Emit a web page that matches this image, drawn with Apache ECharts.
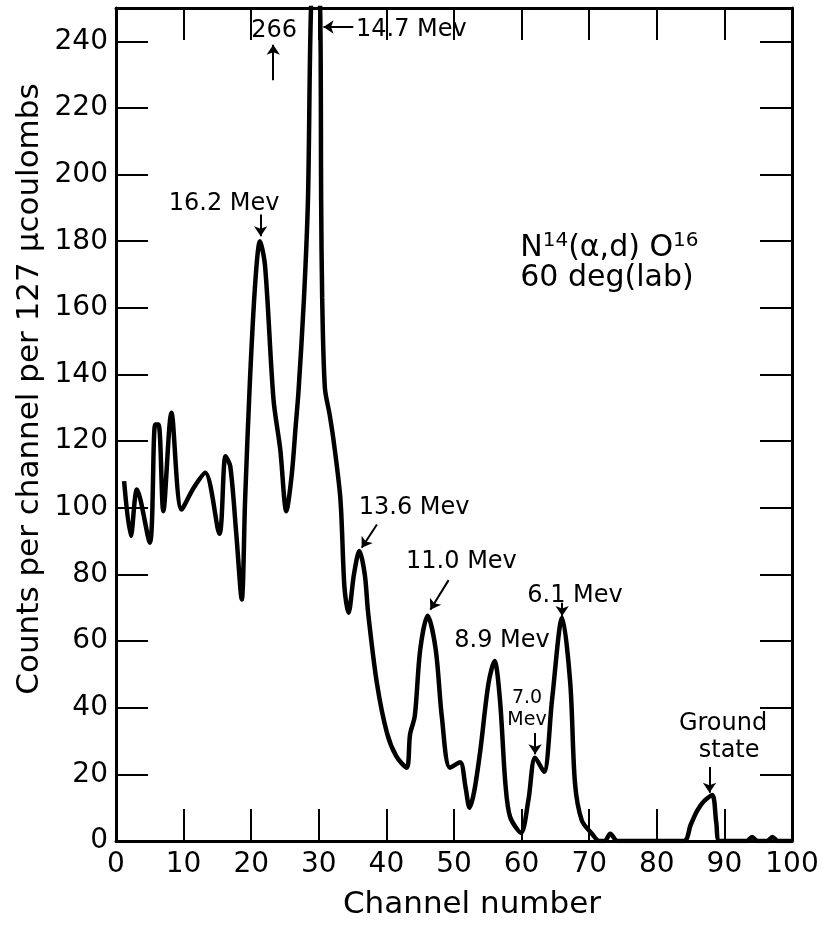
<!DOCTYPE html>
<html>
<head>
<meta charset="utf-8">
<script src="https://cdn.jsdelivr.net/npm/echarts@6/dist/echarts.min.js"></script>
<style>
  html, body { margin: 0; padding: 0; background: #fff; }
  #chart { width: 824px; height: 925px; }
</style>
</head>
<body>
<div id="chart"></div>
<script>
// spectrum: channel number vs counts
const channel = [1.2, 2.2, 3.1, 5.0, 5.8, 6.3, 7.0, 8.2, 9.7, 11.5, 13.2, 15.3, 16.2, 16.9, 17.8, 18.6,
  19.1, 19.8, 20.6, 21.3, 22.05, 23.3, 24.3, 25.2, 26.0, 26.6, 27.0, 27.8, 28.4, 28.85, 29.5,
  30.2, 30.35, 30.5, 30.9, 31.6, 32.2, 33.2, 33.8, 34.4, 35.2, 36.0, 36.8, 37.3, 38.6, 40.1,
  41.5, 43.0, 43.5, 44.2, 45.0, 46.1, 47.3, 48.2, 49.4, 50.9, 51.7, 52.3, 53.0, 53.9, 55.1,
  56.0, 56.8, 57.6, 58.3, 59.9, 61.0, 62.0, 63.3, 64.5, 66.0, 67.2, 67.9, 68.9, 70.4, 71.5,
  72.3, 73.1, 74.2, 84.0, 85.0, 86.0, 87.0, 88.2, 88.8, 89.3, 93.3, 94.1, 94.9, 96.3, 97.1, 97.9, 100];
const counts = [108, 91.5, 105.5, 89.5, 125, 125, 99, 128.5, 99.5, 106, 110.5, 92.2, 115.5, 112.5, 92, 72.5,
  102.5, 137.6, 167.6, 180, 172.6, 132.5, 117.5, 99, 110, 125, 135, 162.6, 192.7, 250, 266,
  250, 192, 163, 136, 128, 120, 102.5, 76, 68.5, 80, 87, 80, 68.4, 47.3, 32.3,
  25.3, 22, 32, 37.5, 57.4, 67.6, 57.4, 37.3, 22, 23.6, 16.2, 10, 15, 27.3, 47.3,
  54, 42.3, 17.3, 7.2, 2.5, 12.2, 25, 20.8, 42.3, 67, 47.3, 17.3, 6.2, 2.2, 0,
  0, 2.2, 0, 0, 4.8, 9.2, 12, 13.8, 5.5, 0, 0, 1.2, 0, 0, 1.2, 0, 0];

const xTicks = { min: 0, max: 100, step: 10 };
const yTicks = { min: 0, max: 250, step: 20 };

// peak labels, anchored in data coordinates
const notes = [
  { text: '266', x: 23.4, y: 243.2, size: 24 },
  { text: '14.7 Mev', x: 35.5, y: 243.5, size: 24, align: 'left' },
  { text: '16.2 Mev', x: 16.0, y: 191.2, size: 24 },
  { text: '13.6 Mev', x: 44.1, y: 100, size: 24 },
  { text: '11.0 Mev', x: 51.1, y: 83.8, size: 24 },
  { text: '8.9 Mev', x: 57.1, y: 60.1, size: 24 },
  { text: '7.0', x: 60.8, y: 42.9, size: 19 },
  { text: 'Mev', x: 60.8, y: 36.3, size: 19 },
  { text: '6.1 Mev', x: 67.9, y: 73.6, size: 24 },
  { text: 'Ground', x: 89.8, y: 35.1, size: 24 },
  { text: 'state', x: 90.7, y: 27, size: 24 }
];
// arrows: [from, to]
const arrows = [
  [[23.26, 228.3], [23.26, 239]],
  [[35.1, 244.3], [30.7, 244.3]],
  [[21.4, 188], [21.4, 181.5]],
  [[38.6, 95], [36.35, 88]],
  [[49.2, 78.3], [46.5, 69.4]],
  [[62.0, 32.4], [62.0, 26]],
  [[66.0, 71.5], [66.0, 67.5]],
  [[87.8, 22.2], [87.8, 14.5]]
];

const font = 'DejaVu Sans';
const chart = echarts.init(document.getElementById('chart'));

function axisBase(extra) {
  return Object.assign({
    type: 'value',
    axisLine: { show: true, onZero: false, lineStyle: { color: '#000', width: 3 } },
    axisTick: { show: true, inside: true, length: 32, lineStyle: { color: '#000', width: 2 } },
    splitLine: { show: false },
    axisLabel: { color: '#000', fontSize: 28, fontFamily: font }
  }, extra);
}

chart.setOption({
  animation: false,
  backgroundColor: '#fff',
  grid: { left: 116, right: 32, top: 8, bottom: 84 },
  xAxis: [
    axisBase({ min: xTicks.min, max: xTicks.max, interval: xTicks.step, position: 'bottom',
      axisLabel: { color: '#000', fontSize: 28, fontFamily: font, margin: 10 } }),
    axisBase({ min: xTicks.min, max: xTicks.max, interval: xTicks.step, position: 'top',
      axisLabel: { show: false } })
  ],
  yAxis: [
    axisBase({ min: yTicks.min, max: yTicks.max, interval: yTicks.step, position: 'left',
      axisLabel: { color: '#000', fontSize: 28, fontFamily: font, margin: 8,
        formatter: v => (v === yTicks.max ? '' : v) } }),
    axisBase({ min: yTicks.min, max: yTicks.max, interval: yTicks.step, position: 'right',
      axisLabel: { show: false } })
  ],
  series: [{
    type: 'line',
    data: channel.map((c, i) => [c, counts[i]]),
    showSymbol: false,
    smooth: 0.3,
    clip: true,
    lineStyle: { color: '#000', width: 4.5 },
    markLine: {
      silent: true,
      symbol: ['none', 'arrow'],
      symbolSize: 10,
      label: { show: false },
      lineStyle: { color: '#000', width: 2, type: 'solid' },
      data: arrows.map(a => [{ coord: a[0] }, { coord: a[1] }])
    }
  }]
});

// texts placed after the axes are laid out
const graphics = notes.map(n => {
  const p = chart.convertToPixel({ xAxisIndex: 0, yAxisIndex: 0 }, [n.x, n.y]);
  return {
    type: 'text', x: p[0], y: p[1],
    style: { text: n.text, fill: '#000', font: n.size + 'px "' + font + '"',
      align: n.align || 'center', verticalAlign: 'middle' }
  };
});
const rp = chart.convertToPixel({ xAxisIndex: 0, yAxisIndex: 0 }, [59.8, 178]);
graphics.push({
  type: 'text', x: rp[0], y: rp[1],
  style: {
    text: '{b|N}{s|14}{b|(α,d) O}{s|16}',
    align: 'left', verticalAlign: 'middle',
    rich: {
      b: { fontSize: 30, fontFamily: font, fill: '#000', lineHeight: 34 },
      s: { fontSize: 20, fontFamily: font, fill: '#000', verticalAlign: 'top', lineHeight: 34, padding: [0, 0, 14, 0] }
    }
  }
});
const rp2 = chart.convertToPixel({ xAxisIndex: 0, yAxisIndex: 0 }, [59.8, 169]);
graphics.push({
  type: 'text', x: rp2[0], y: rp2[1],
  style: { text: '60 deg(lab)', fill: '#000', font: '30px "' + font + '"', align: 'left', verticalAlign: 'middle' }
});
// axis titles
graphics.push({
  type: 'text', x: 472, y: 905,
  style: { text: 'Channel number', fill: '#000', font: '31px "' + font + '"', align: 'center', verticalAlign: 'middle' }
});
graphics.push({
  type: 'text', x: 30, y: 389, rotation: Math.PI / 2,
  style: { text: 'Counts per channel per 127 μcoulombs', fill: '#000', font: '31px "' + font + '"', align: 'center', verticalAlign: 'middle' }
});
chart.setOption({ graphic: graphics });
</script>
</body>
</html>
